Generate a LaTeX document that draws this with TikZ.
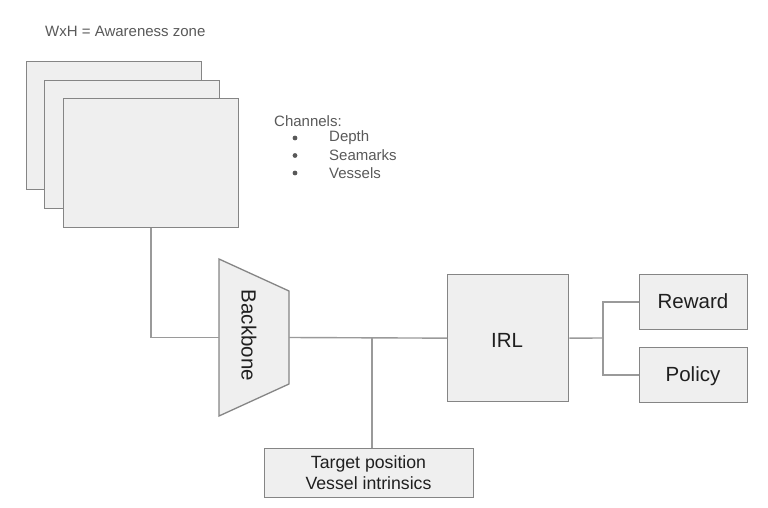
\documentclass[tikz,border=0pt]{standalone}
\usepackage{fontspec}
\setmainfont{Liberation Sans}
\definecolor{boxfill}{HTML}{EFEFEF}
\definecolor{boxline}{HTML}{858585}
\definecolor{connline}{HTML}{9A9A9A}
\definecolor{smalltext}{HTML}{595959}
\definecolor{bigtext}{HTML}{1F1F1F}
\begin{document}
\begin{tikzpicture}[x=1pt,y=-1pt,
  box/.style={draw=boxline,fill=boxfill,line width=1.3pt,inner sep=0pt,anchor=north west},
  conn/.style={draw=connline,line width=1.4pt},
  small/.style={text=smalltext,font=\fontsize{15}{18}\selectfont,inner sep=0pt},
  big/.style={text=bigtext,font=\fontsize{20.5}{24}\selectfont,inner sep=0pt},
  mid/.style={text=bigtext,font=\fontsize{17.7}{21}\selectfont,inner sep=0pt,align=center}]
\useasboundingbox (0,0) rectangle (768,508);
% title
\node[small,anchor=west] (title) at (45,31) {WxH = Awareness zone};
% stacked frames
\node[box,minimum width=175pt,minimum height=128pt] (back) at (26,61) {};
\node[box,minimum width=175pt,minimum height=128pt] (middle) at (44,80) {};
\node[box,minimum width=175pt,minimum height=129pt] (front) at (63,98) {};
% channels list
\node[small,anchor=west] (chan) at (274,121) {Channels:};
\fill[smalltext] (295,138) circle (2.4pt);
\fill[smalltext] (295,155.5) circle (2.4pt);
\fill[smalltext] (295,173) circle (2.4pt);
\node[small,anchor=west] (depth) at (329,138) {Depth};
\node[small,anchor=west] (seam) at (329,155.5) {Seamarks};
\node[small,anchor=west] (vess) at (329,173) {Vessels};
% backbone
\draw[draw=boxline,fill=boxfill,line width=1.3pt] (219,259) -- (289,291) -- (289,384) -- (219,416) -- cycle;
\coordinate (bbin) at (219,337.5);
\coordinate (bbout) at (289,337.5);
\node[big,rotate=-90] (bb) at (249,335.5) {Backbone};
% IRL
\node[box,minimum width=121pt,minimum height=127pt] (irl) at (447,274) {};
\node[big] (irltext) at (507,340) {IRL};
% target
\node[box,minimum width=209pt,minimum height=49pt] (target) at (264,448) {};
\node[mid] (targettext) at (368.5,473) {Target position\\Vessel intrinsics};
% reward / policy
\node[box,minimum width=108pt,minimum height=55pt] (reward) at (639,274) {};
\node[big] (rewardtext) at (693,301.5) {Reward};
\node[box,minimum width=108pt,minimum height=55pt] (policy) at (639,347) {};
\node[big] (policytext) at (693,376) {Policy};
% connectors
\draw[conn] (front.south) |- (bbin);
\draw[conn] (bbout) -- (irl.west);
\coordinate (j) at (372,337.5);
\draw[conn] (j) -- (j |- target.north);
\coordinate (k) at (603,338);
\draw[conn] (irl.east) -- (k);
\draw[conn] (k) |- (reward.west);
\draw[conn] (k) |- (policy.west);
\end{tikzpicture}
\end{document}
